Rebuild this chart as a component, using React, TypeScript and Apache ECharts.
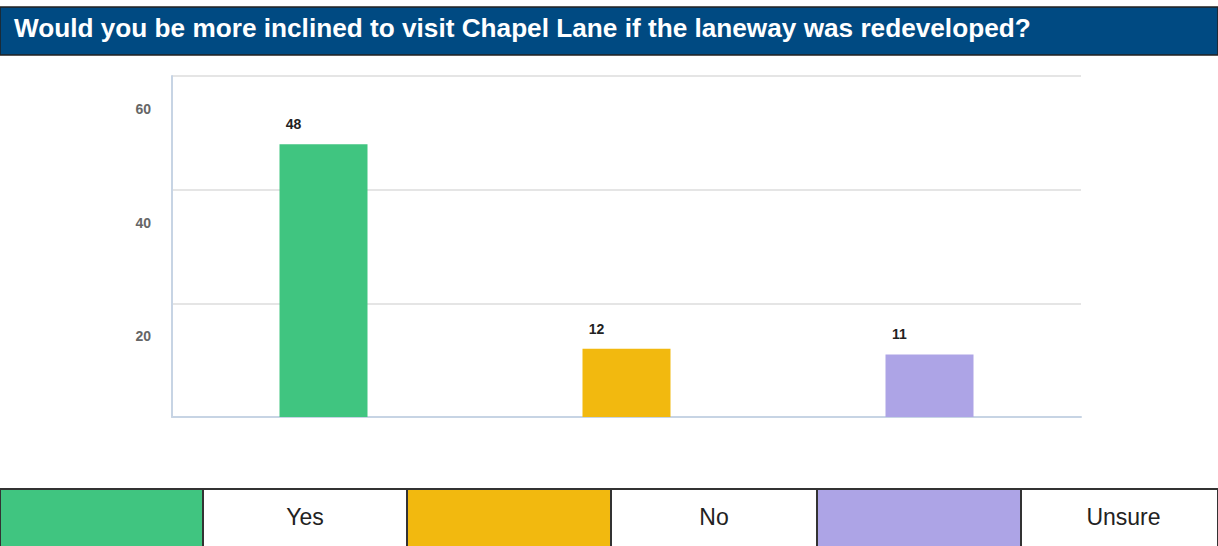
import React, { useEffect, useRef } from "react";
import * as echarts from "echarts";

const title = "Would you be more inclined to visit Chapel Lane if the laneway was redeveloped?";
const categories = ["Yes", "No", "Unsure"];
const values = [48, 12, 11];
const colors = ["#40c580", "#f2b90f", "#ada4e6"];
const yTicks = [0, 20, 40, 60];
const legendEdges = [0, 203, 407, 611, 817, 1021, 1218];

export default function App() {
  const ref = useRef<HTMLDivElement>(null);
  useEffect(() => {
    if (!ref.current) return;
    const chart = echarts.init(ref.current, null, { renderer: "svg" });
    const W = 1218;
    const legendTop = 489;
    const legendEls: any[] = [];
    categories.forEach((c, i) => {
      const a = legendEdges[i * 2];
      const b = legendEdges[i * 2 + 1];
      const d = legendEdges[i * 2 + 2];
      legendEls.push({
        type: "rect",
        shape: { x: a, y: legendTop, width: b - a, height: 70 },
        style: { fill: colors[i], stroke: "#333", lineWidth: 2 },
      });
      legendEls.push({
        type: "rect",
        shape: { x: b, y: legendTop, width: d - b, height: 70 },
        style: { fill: "#fff", stroke: "#333", lineWidth: 2 },
      });
      legendEls.push({
        type: "text",
        x: (b + d) / 2 + (i === 2 ? 4 : 0),
        y: 517,
        style: {
          text: c,
          fill: "#222",
          font: "23px Arial, 'Liberation Sans', sans-serif",
          align: "center",
          verticalAlign: "middle",
        },
      });
    });
    chart.setOption({
      animation: false,
      backgroundColor: "#fff",
      grid: { left: 172, right: 137, top: 76, bottom: 129 },
      xAxis: {
        type: "category",
        data: categories,
        axisLine: { show: true, lineStyle: { color: "#c7d4e4", width: 2 } },
        axisTick: { show: false },
        axisLabel: { show: false },
      },
      yAxis: {
        type: "value",
        min: yTicks[0],
        max: yTicks[yTicks.length - 1],
        interval: 20,
        axisLine: { show: true, lineStyle: { color: "#c7d4e4", width: 2 } },
        axisTick: { show: false },
        splitLine: { show: true, lineStyle: { color: "#dddddd", width: 1.5 } },
        axisLabel: {
          margin: 21,
          color: "#666",
          fontWeight: "bold",
          fontSize: 14,
          fontFamily: "Arial, sans-serif",
          verticalAlign: "top",
          padding: [26, 0, 0, 0],
          formatter: (v: number) => (v === 0 ? "" : String(v)),
        },
      },
      series: [
        {
          type: "bar",
          barWidth: 88,
          data: values.map((v, i) => ({ value: v, itemStyle: { color: colors[i] } })),
          label: {
            show: true,
            position: "top",
            offset: [-30, -8],
            color: "#222",
            fontWeight: "bold",
            fontSize: 14,
            fontFamily: "Arial, sans-serif",
          },
        },
      ],
      graphic: [
        {
          type: "rect",
          shape: { x: 0, y: 7, width: W, height: 48 },
          style: { fill: "#004a82", stroke: "#222", lineWidth: 1.5 },
        },
        {
          type: "text",
          x: 14,
          y: 28,
          style: {
            text: title,
            fill: "#fff",
            font: "bold 26.2px Arial, 'Liberation Sans', sans-serif",
            verticalAlign: "middle",
          },
        },
        ...legendEls,
      ],
    });
    return () => chart.dispose();
  }, []);
  return (
    <div
      ref={ref}
      style={{ position: "fixed", left: 0, top: 0, width: 1218, height: 546 }}
    />
  );
}
